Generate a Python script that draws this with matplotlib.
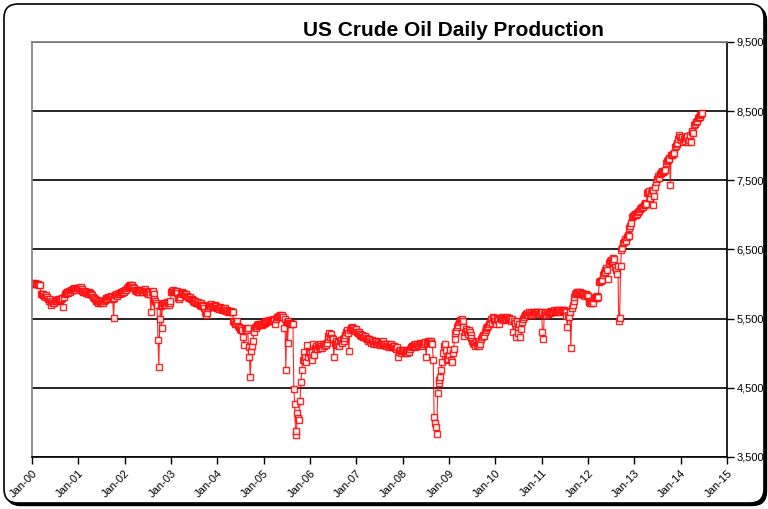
import numpy as np
import pandas as pd
import matplotlib
matplotlib.use("Agg")
import matplotlib.pyplot as plt
import matplotlib.dates as mdates
from matplotlib.patches import FancyBboxPatch
from matplotlib.ticker import FuncFormatter

# weekly US crude oil production (thousand barrels per day)
prod_2000 = [6010, 6005, 6000, 6010, 6000, 5995, 6000, 5990, 5980,
             5860, 5850, 5840, 5860, 5830, 5820, 5840, 5810,
             5780, 5760, 5790, 5740, 5700, 5750, 5730, 5720, 5760,
             5770, 5760, 5780, 5750, 5790, 5770, 5780, 5800, 5670, 5820,
             5860, 5870, 5880, 5890, 5870, 5900, 5890, 5910,
             5920, 5930, 5910, 5940, 5930, 5920, 5940, 5950]
prod_2001 = [5950, 5940, 5960, 5930,
             5900, 5890, 5880, 5900, 5870, 5880, 5860, 5890, 5870, 5850, 5860, 5840,
             5820, 5800, 5780, 5760, 5770, 5740, 5730, 5750, 5720, 5740, 5760, 5730, 5750, 5770,
             5780, 5800, 5790, 5810, 5820, 5800, 5830, 5810, 5790,
             5510,
             5800, 5840, 5850, 5830, 5860, 5870, 5860, 5880, 5870, 5890, 5900, 5880]
prod_2002 = [5910, 5920, 5940, 5960, 5970, 5980, 5990, 5970, 5980, 5960, 5950,
             5920, 5900, 5910, 5890, 5900, 5880, 5910, 5920, 5900, 5890, 5910, 5930, 5900, 5880,
             5870, 5860, 5880, 5850,
             5590,
             5880, 5900, 5860, 5780, 5760,
             5720, 5700, 5190, 4800, 5500, 5690, 5360, 5700,
             5720, 5710, 5730, 5700, 5740, 5720, 5700, 5730, 5750]
prod_2003 = [5880, 5900, 5910, 5890, 5900, 5880, 5900, 5870, 5800, 5790, 5810, 5860, 5880,
             5870, 5850, 5860, 5840, 5850, 5830, 5820, 5800, 5810, 5790, 5780,
             5770, 5760, 5740, 5750, 5730, 5720, 5740, 5710, 5700, 5720, 5690, 5700,
             5680, 5650, 5600, 5560, 5580, 5650,
             5680, 5700, 5690, 5710, 5680, 5670, 5690, 5700, 5680, 5660]
prod_2004 = [5650, 5660, 5640, 5670, 5650, 5630, 5640, 5620, 5650, 5630, 5610, 5620, 5600, 5610, 5590, 5610, 5600,
             5590, 5470, 5450, 5420, 5440, 5460,
             5400, 5380, 5350, 5330, 5360, 5340, 5230, 5120,
             5370, 5350, 5330, 5360, 5095,
             4950, 4650, 5030, 5100, 5170, 5310, 5380, 5360,
             5410, 5400, 5420, 5410, 5430, 5420, 5410, 5430, 5440]
prod_2005 = [5440, 5460, 5450, 5470, 5460, 5480, 5470, 5460, 5480, 5490, 5470, 5480, 5430,
             5500, 5520, 5530, 5540, 5530, 5550, 5540, 5550, 5530,
             5360, 5500, 4760, 5450, 5150, 5460, 5440, 5430, 5440, 5430,
             5430, 4490, 4270, 3820, 3870, 4130, 4060, 4030, 4310, 4580,
             4760, 4900, 5020, 4900, 4950, 4880, 5120, 4950, 5020, 5000]
prod_2006 = [4950, 5020, 4900, 5130, 4980,
             5080, 5100, 5060, 5120, 5090, 5140, 5080, 5110, 5070, 5130, 5100, 5140, 5120, 5150,
             5200, 5250, 5290, 5230, 5280, 5220, 5200,
             4950,
             5150, 5120, 5180, 5140, 5160, 5110, 5170, 5190, 5150, 5200, 5180, 5220,
             5260, 5300, 5330, 5290, 5030, 5340, 5360, 5380, 5350, 5370, 5340, 5320, 5350]
prod_2007 = [5310, 5290, 5300, 5270, 5280, 5250, 5260, 5240, 5230, 5250, 5220, 5200,
             5210, 5180, 5200, 5170, 5150, 5190, 5160, 5140, 5180, 5150, 5170, 5130, 5160, 5140,
             5120, 5150, 5130, 5170, 5140, 5120,
             5130, 5100, 5140, 5110, 5090, 5120, 5100, 5130, 5090, 5110,
             5100, 5080, 5060, 5090, 4940, 5030, 5020, 5040, 5010, 5030]
prod_2008 = [5050, 5030, 5010, 5020, 5040, 5000, 5030, 5020, 5060,
             5090, 5110, 5100, 5120, 5090, 5130, 5110, 5140, 5100, 5120, 5150, 5130, 5110, 5140, 5150, 5130, 5160,
             4950,
             5150, 5170, 5160, 5180, 5170, 5150, 5130,
             4900,
             4080, 3990, 3930, 3830, 4420, 4570, 4610, 4660, 4760, 4880, 5000, 5100, 5140, 5050, 4950, 4900, 4920]
prod_2009 = [4980, 5050, 4900, 4880, 5000, 5060, 5200,
             5290, 5320, 5380, 5410, 5450, 5480, 5470, 5490, 5460,
             5380, 5250, 5300, 5350, 5320, 5280, 5340, 5300, 5270, 5220,
             5180, 5150, 5130, 5100, 5160, 5120, 5150, 5110, 5170, 5140, 5200,
             5230, 5260, 5250, 5300, 5330, 5360, 5380, 5400, 5420,
             5450, 5500, 5440, 5530, 5480, 5510]
prod_2010 = [5470, 5430, 5500, 5480, 5420, 5510, 5490, 5520, 5500, 5480, 5510, 5490,
             5500, 5520, 5490, 5510, 5480, 5500, 5470, 5490,
             5310, 5460, 5440, 5240, 5470, 5380, 5290, 5420, 5230, 5350, 5450, 5500, 5520,
             5560, 5550, 5570, 5580, 5560, 5590, 5570, 5580, 5560, 5590, 5580, 5570, 5590,
             5600, 5580, 5590, 5570, 5600, 5580, 5590]
prod_2011 = [5310, 5200,
             5570, 5580, 5560, 5590, 5570, 5600, 5580, 5590, 5610, 5590, 5600, 5620, 5600,
             5610, 5590, 5620, 5610, 5630, 5600, 5620, 5610, 5630, 5620, 5610, 5600,
             5540, 5380, 5550, 5530, 5600, 5070, 5650, 5700, 5750,
             5820, 5860, 5870, 5880, 5890, 5870, 5880, 5860, 5870,
             5850, 5840, 5860, 5830, 5850, 5840, 5830]
prod_2012 = [5760, 5740, 5720, 5730, 5750, 5720,
             5800, 5820, 5810, 5830, 5800, 5820,
             6030, 6050, 6040, 6060,
             6130, 6160, 6200, 6180, 6230, 6210,
             6080,
             6300, 6330, 6350, 6320, 6370, 6340, 6360,
             6250, 6200, 6150, 6260,
             5460, 5510, 6260, 6490, 6520, 6590, 6610, 6650, 6630, 6680, 6710, 6700,
             6810, 6840, 6880, 6970, 6980, 7000]
prod_2013 = [7020, 7000, 7030, 7010, 7040, 7060, 7090,
             7100, 7120, 7110, 7150, 7140, 7170, 7160,
             7310, 7330, 7340, 7240, 7320, 7360, 7340, 7140, 7280, 7400,
             7480, 7520, 7560, 7540, 7590, 7600,
             7610, 7630, 7620, 7640, 7650,
             7750, 7780, 7800, 7820, 7810,
             7430,
             7860, 7870, 7880, 7890,
             7980, 8000, 8030, 8040, 8100, 8150, 8120]
prod_2014 = [8080, 8120, 8060, 8100, 8130, 8070, 8110, 8140, 8050, 8090, 8150, 8060,
             8200, 8210, 8190, 8300, 8320,
             8340, 8360, 8400, 8420, 8410, 8440, 8460, 8480]

production = (prod_2000 + prod_2001 + prod_2002 + prod_2003 + prod_2004 + prod_2005 +
              prod_2006 + prod_2007 + prod_2008 + prod_2009 + prod_2010 + prod_2011 +
              prod_2012 + prod_2013 + prod_2014)
weeks = pd.date_range("2000-01-07", periods=len(production), freq="7D")

y_ticks = [3500, 4500, 5500, 6500, 7500, 8500, 9500]
title = "US Crude Oil Daily Production"

plt.rcParams['font.family'] = ['Liberation Sans', 'DejaVu Sans']

fig = plt.figure(figsize=(7.68, 5.09), dpi=100)

# rounded chart frame with a shadow, Excel style
shadow = FancyBboxPatch((0.065, 0.035), 7.60, 4.99,
                        boxstyle="round,pad=0,rounding_size=0.14",
                        transform=fig.dpi_scale_trans, fc="black", ec="black", lw=1,
                        zorder=-3)
frame = FancyBboxPatch((0.04, 0.06), 7.60, 4.99,
                       boxstyle="round,pad=0,rounding_size=0.14",
                       transform=fig.dpi_scale_trans, fc="white", ec="black", lw=1.2,
                       zorder=-2)
fig.add_artist(shadow)
fig.add_artist(frame)

ax = fig.add_axes([32 / 768, 52 / 509, 695 / 768, 415 / 509])
ax.set_facecolor("white")

ax.plot(weeks, production, color="#ff0000", lw=0.8, alpha=0.85,
        marker="s", ms=4.4, mfc="white", mec="#ff0000", mew=1.0)

ax.set_ylim(3500, 9500)
ax.set_yticks(y_ticks)
ax.yaxis.tick_right()
ax.yaxis.set_major_formatter(FuncFormatter(lambda v, p: f"{int(v):,}"))
ax.set_xlim(pd.Timestamp("2000-01-01"), pd.Timestamp("2015-01-01"))
ax.xaxis.set_major_locator(mdates.YearLocator())
ax.xaxis.set_major_formatter(mdates.DateFormatter("%b-%y"))

ax.set_axisbelow(True)
ax.yaxis.grid(True, color="black", lw=1.2)

for side in ["left", "top"]:
    ax.spines[side].set_color("#808080")
    ax.spines[side].set_linewidth(1.2)
for side in ["right", "bottom"]:
    ax.spines[side].set_color("black")
    ax.spines[side].set_linewidth(1.2)

ax.tick_params(axis="y", which="both", right=True, left=False, direction="out",
               length=5, width=1, labelsize=8, pad=2)
ax.tick_params(axis="x", direction="out", length=5, width=1, labelsize=8, pad=3)
for lab in ax.get_xticklabels():
    lab.set_rotation(45)
    lab.set_ha("right")
    lab.set_va("top")
    lab.set_rotation_mode("anchor")

fig.text(0.59, 0.941, title, ha="center", va="center", fontsize=15, fontweight="bold")

fig.savefig("out.png", dpi=100)
